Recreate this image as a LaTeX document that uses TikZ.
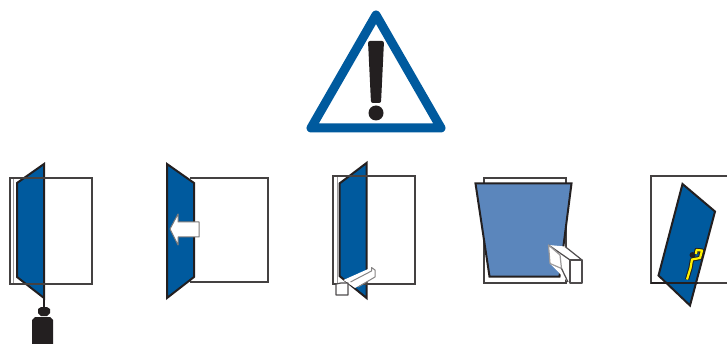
\documentclass[tikz,border=0pt]{standalone}
\usepackage{xcolor}
\definecolor{signblue}{HTML}{005A9E}
\definecolor{paleblue}{HTML}{5B86BC}
\definecolor{inkblack}{HTML}{231F20}
\tikzset{
	sheet/.style={draw=inkblack!85, line width=1.8pt, fill=white},
	flap/.style={draw=inkblack, line width=2pt, fill=signblue, line join=miter},
	eraser/.style={draw=inkblack!80, line width=1.2pt, fill=white, line join=round},
}
\begin{document}
\begin{tikzpicture}[x=1pt, y=-1pt]
	\useasboundingbox (0,0) rectangle (727,344);
	
	% Warning sign
	\draw[signblue, line width=9pt, line join=round, fill=white] (376,15) -- (441,128) -- (311,128) -- cycle;
	\fill[inkblack, rounded corners=2pt] (368,41) -- (384,41) -- (381,103) -- (371,103) -- cycle;
	\fill[inkblack] (376,113) circle (7.5);
	
	% First panel, weight hanging from the fold
	\draw[sheet] (10,178) rectangle (92,284);
	\draw[inkblack!45, line width=1pt] (13,178) -- (13,284);
	\draw[flap] (44,164) -- (17,183) -- (17,277) -- (44,298) -- cycle;
	\draw[sheet, fill=none] (10,178) -- (92,178);
	\draw[sheet, fill=none] (10,284) -- (92,284);
	\draw[inkblack, line width=1.3pt] (44,298) -- (44,309);
	\fill[inkblack] (38,309) -- (41,307) -- (47,307) -- (50,309) -- (50,313) -- (47,316) -- (41,316) -- (38,313) -- cycle;
	\fill[inkblack] (35,317) -- (50,317) -- (53,320) -- (53,344) -- (32,344) -- (32,320) -- cycle;
	
	% Second panel, flap pushed with the arrow
	\draw[sheet] (190,178) -- (268,178) -- (268,282) -- (190,282);
	\draw[flap] (167,164) -- (194,183) -- (194,277) -- (167,298) -- cycle;
	\draw[eraser, draw=inkblack!60, line width=1pt] (170,229) -- (178,214) -- (178,222) -- (199,222) -- (199,237) -- (178,237) -- (178,245) -- cycle;
	
	% Third panel, eraser on the lower corner
	\draw[sheet] (333,176) rectangle (415,284);
	\draw[inkblack!45, line width=1pt] (337,176) -- (337,284);
	\draw[flap] (366.5,163) -- (339.5,183.5) -- (339.5,276) -- (366.5,298) -- cycle;
	\draw[sheet, fill=none] (333,176) -- (415,176);
	\draw[sheet, fill=none] (333,284) -- (415,284);
	\fill[white] (343.5,280) -- (371.5,267.5) -- (375,270) -- (375,277) -- (355,288) -- cycle;
	\draw[eraser, draw=inkblack!55, line width=1pt, fill=none] (350.5,282) -- (371.5,271) -- (371.5,267.5) -- (375,270) -- (375,277) -- (358,287);
	\draw[eraser] (336,284) -- (341,283) -- (348,283) -- (348,295) -- (336,295) -- cycle;
	
	% Fourth panel, flap folded over the sheet
	\draw[sheet] (484,178) rectangle (566,283);
	\draw[flap, fill=paleblue] (475.5,183.5) -- (571.5,183.5) -- (559.5,276.5) -- (489.5,276.5) -- cycle;
	\fill[white] (548.5,245) -- (565,246.5) -- (581.5,260) -- (581.5,283.5) -- (568,282) -- (550,263.5) -- cycle;
	\draw[eraser] (570,260) rectangle (582,283);
	\draw[eraser, fill=none] (548.5,245) -- (570,260);
	\draw[eraser, fill=none] (565,246.5) -- (582,260);
	\draw[eraser, draw=inkblack!45, fill=none] (548.5,245) -- (550,263.5) -- (561.5,268.5) -- (560,255) -- cycle;
	\draw[eraser, fill=none] (561.5,268.5) -- (568,282);
	
	% Fifth panel, flap turned with yellow mark
	\draw[sheet] (727,176) -- (651,176) -- (651,283) -- (727,283);
	\draw[flap] (682.5,184) -- (715,211.5) -- (690,305.5) -- (658.5,275.5) -- cycle;
	\draw[inkblack, line width=1.8pt] (651,283) -- (698,283);
	\fill[inkblack] (692.5,255) circle (3);
	\draw[inkblack, line width=4.2pt, line join=round] (687,279.5) -- (690.5,268) -- (692,259.5) -- (700,258) -- (702,250.5) -- (696.5,250) -- (696,254);
	\draw[yellow, line width=2.2pt, line join=round] (687,279.5) -- (690.5,268) -- (692,259.5) -- (700,258) -- (702,250.5) -- (696.5,250) -- (696,254);
\end{tikzpicture}
\end{document}
